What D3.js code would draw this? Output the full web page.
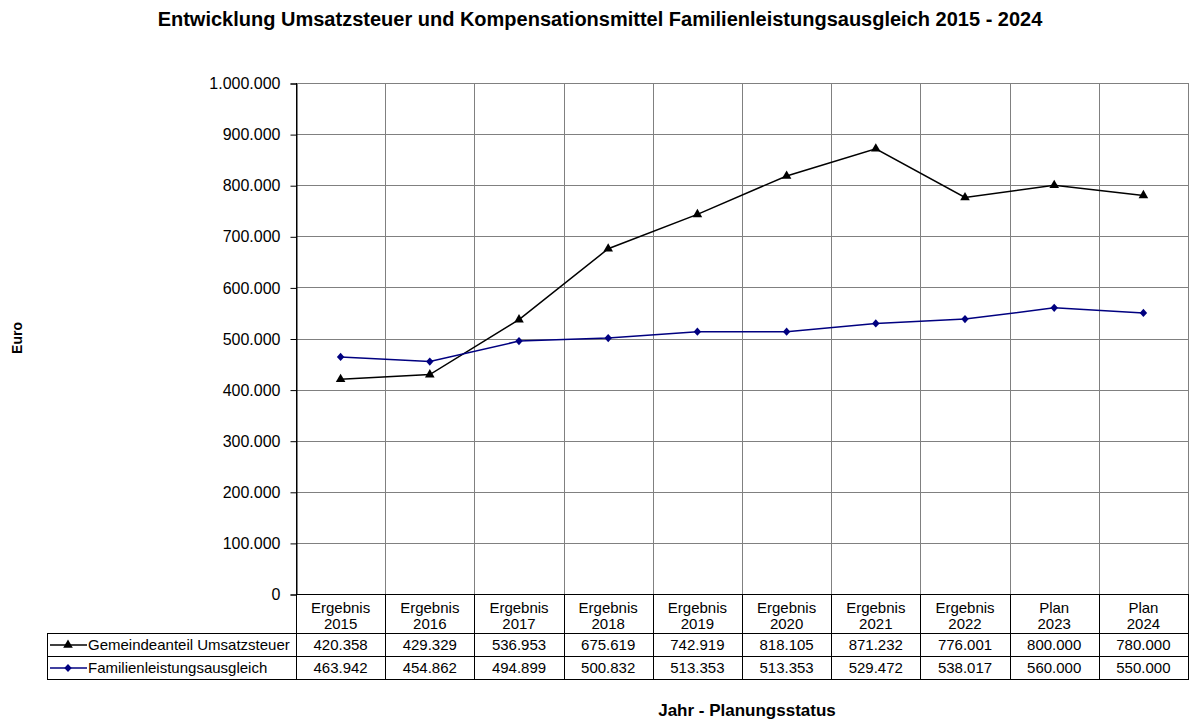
<!DOCTYPE html>
<html>
<head>
  <meta charset="utf-8">
  <title>Entwicklung Umsatzsteuer und Kompensationsmittel</title>
  <script src="https://d3js.org/d3.v7.min.js"></script>
  <style>
    html, body { margin: 0; padding: 0; background: #fff; }
    svg { display: block; font-family: "Liberation Sans", Arial, sans-serif; }
    .grid line { stroke: #808080; stroke-width: 1; }
    .cell { font-size: 15px; fill: #000; }
  </style>
</head>
<body>
  <svg width="1192" height="719"></svg>
  <script>
    // Data
    const status = ["Ergebnis", "Ergebnis", "Ergebnis", "Ergebnis", "Ergebnis", "Ergebnis", "Ergebnis", "Ergebnis", "Plan", "Plan"];
    const years = ["2015", "2016", "2017", "2018", "2019", "2020", "2021", "2022", "2023", "2024"];
    const umsatzsteuer = [420358, 429329, 536953, 675619, 742919, 818105, 871232, 776001, 800000, 780000];
    const familien = [463942, 454862, 494899, 500832, 513353, 513353, 529472, 538017, 560000, 550000];
    const yTicks = [0, 100000, 200000, 300000, 400000, 500000, 600000, 700000, 800000, 900000, 1000000];

    // diamond about as wide as it is tall
    const diamond = {
      draw(ctx, size) {
        const h = Math.sqrt(size / 2);
        const w = h * 0.9;
        ctx.moveTo(0, -h); ctx.lineTo(w, 0); ctx.lineTo(0, h); ctx.lineTo(-w, 0); ctx.closePath();
      }
    };

    const series = [
      { name: "Gemeindeanteil Umsatzsteuer", values: umsatzsteuer, color: "#000000", symbol: d3.symbolTriangle, size: 40 },
      { name: "Familienleistungsausgleich", values: familien, color: "#000080", symbol: diamond, size: 34 }
    ];

    const fmt = d3.formatLocale({ decimal: ",", thousands: ".", grouping: [3], currency: ["", " €"] }).format(",.0f");

    const svg = d3.select("svg");
    const plotLeft = 296, plotRight = 1188, plotTop = 83, plotBottom = 594;
    const tableLeft = 47;
    const headerBottom = 633, row1Bottom = 656, row2Bottom = 679;

    const x = d3.scaleBand().domain(years).range([plotLeft, plotRight]);
    const y = d3.scaleLinear().domain([0, 1000000]).range([plotBottom, plotTop]);

    // title
    svg.append("text")
      .attr("x", 600).attr("y", 26)
      .attr("text-anchor", "middle")
      .style("font-size", "20px").style("font-weight", "bold")
      .text("Entwicklung Umsatzsteuer und Kompensationsmittel Familienleistungsausgleich 2015 - 2024");

    // grid
    const grid = svg.append("g").attr("class", "grid");
    grid.selectAll(".h").data(yTicks.slice(1)).enter().append("line")
      .attr("x1", plotLeft).attr("x2", plotRight)
      .attr("y1", d => Math.round(y(d)) + 0.5).attr("y2", d => Math.round(y(d)) + 0.5);
    const colEdges = years.slice(1).map(d => x(d)).concat([plotRight]);
    grid.selectAll(".v").data(colEdges).enter().append("line")
      .attr("x1", d => Math.round(d) + 0.5).attr("x2", d => Math.round(d) + 0.5)
      .attr("y1", plotTop).attr("y2", plotBottom);

    // y axis
    const yAxis = d3.axisLeft(y).tickValues(yTicks).tickSize(6).tickPadding(10).tickFormat(fmt);
    const ya = svg.append("g").attr("transform", `translate(${plotLeft + 0.5},0.5)`).call(yAxis);
    ya.select(".domain").attr("stroke", "#000");
    ya.selectAll(".tick line").attr("stroke", "#000");
    ya.selectAll(".tick text").style("font-family", "inherit").style("font-size", "16px").attr("fill", "#000");

    svg.append("text")
      .attr("transform", "translate(22,338) rotate(-90)")
      .attr("text-anchor", "middle")
      .style("font-size", "14px").style("font-weight", "bold")
      .text("Euro");

    // lines and markers
    const cx = yr => x(yr) + x.bandwidth() / 2;
    const line = d3.line().x((d, i) => cx(years[i])).y(d => y(d));
    series.forEach(s => {
      svg.append("path").datum(s.values)
        .attr("fill", "none").attr("stroke", s.color).attr("stroke-width", 1.5)
        .attr("d", line);
      svg.selectAll(null).data(s.values).enter().append("path")
        .attr("d", d3.symbol().type(s.symbol).size(s.size))
        .attr("fill", s.color)
        .attr("transform", (d, i) => `translate(${cx(years[i])},${y(d)})`);
    });

    // data table
    const table = svg.append("g");
    const hl = (x1, x2, yy) => table.append("line").attr("x1", x1).attr("x2", x2)
      .attr("y1", yy + 0.5).attr("y2", yy + 0.5).attr("stroke", "#000");
    const vl = (xx, y1, y2) => table.append("line").attr("x1", xx + 0.5).attr("x2", xx + 0.5)
      .attr("y1", y1).attr("y2", y2).attr("stroke", "#000");

    hl(plotLeft, plotRight, plotBottom);
    hl(tableLeft, plotRight, headerBottom);
    hl(tableLeft, plotRight, row1Bottom);
    hl(tableLeft, plotRight, row2Bottom);
    vl(tableLeft, headerBottom, row2Bottom + 1);
    vl(plotLeft, plotTop, row2Bottom + 1);
    colEdges.forEach(e => vl(Math.round(e), plotBottom, row2Bottom + 1));

    // header cells
    years.forEach((yr, i) => {
      table.append("text").attr("class", "cell").attr("x", cx(yr)).attr("y", 613)
        .attr("text-anchor", "middle").text(status[i]);
      table.append("text").attr("class", "cell").attr("x", cx(yr)).attr("y", 629)
        .attr("text-anchor", "middle").text(yr);
    });

    // value rows
    const rowBaselines = [649.5, 673];
    const rowMid = [(headerBottom + row1Bottom) / 2, (row1Bottom + row2Bottom) / 2];
    series.forEach((s, r) => {
      table.append("line")
        .attr("x1", 50).attr("x2", 87)
        .attr("y1", rowMid[r] + 0.5).attr("y2", rowMid[r] + 0.5)
        .attr("stroke", s.color).attr("stroke-width", 1.5);
      table.append("path")
        .attr("d", d3.symbol().type(s.symbol).size(s.size))
        .attr("fill", s.color)
        .attr("transform", `translate(68,${rowMid[r] + 0.5})`);
      table.append("text").attr("class", "cell").attr("x", 88).attr("y", rowBaselines[r]).text(s.name);
      s.values.forEach((v, i) => {
        table.append("text").attr("class", "cell")
          .attr("x", cx(years[i])).attr("y", rowBaselines[r])
          .attr("text-anchor", "middle").text(fmt(v));
      });
    });

    svg.append("text")
      .attr("x", 747).attr("y", 716)
      .attr("text-anchor", "middle")
      .style("font-size", "17px").style("font-weight", "bold")
      .text("Jahr - Planungsstatus");
  </script>
</body>
</html>
